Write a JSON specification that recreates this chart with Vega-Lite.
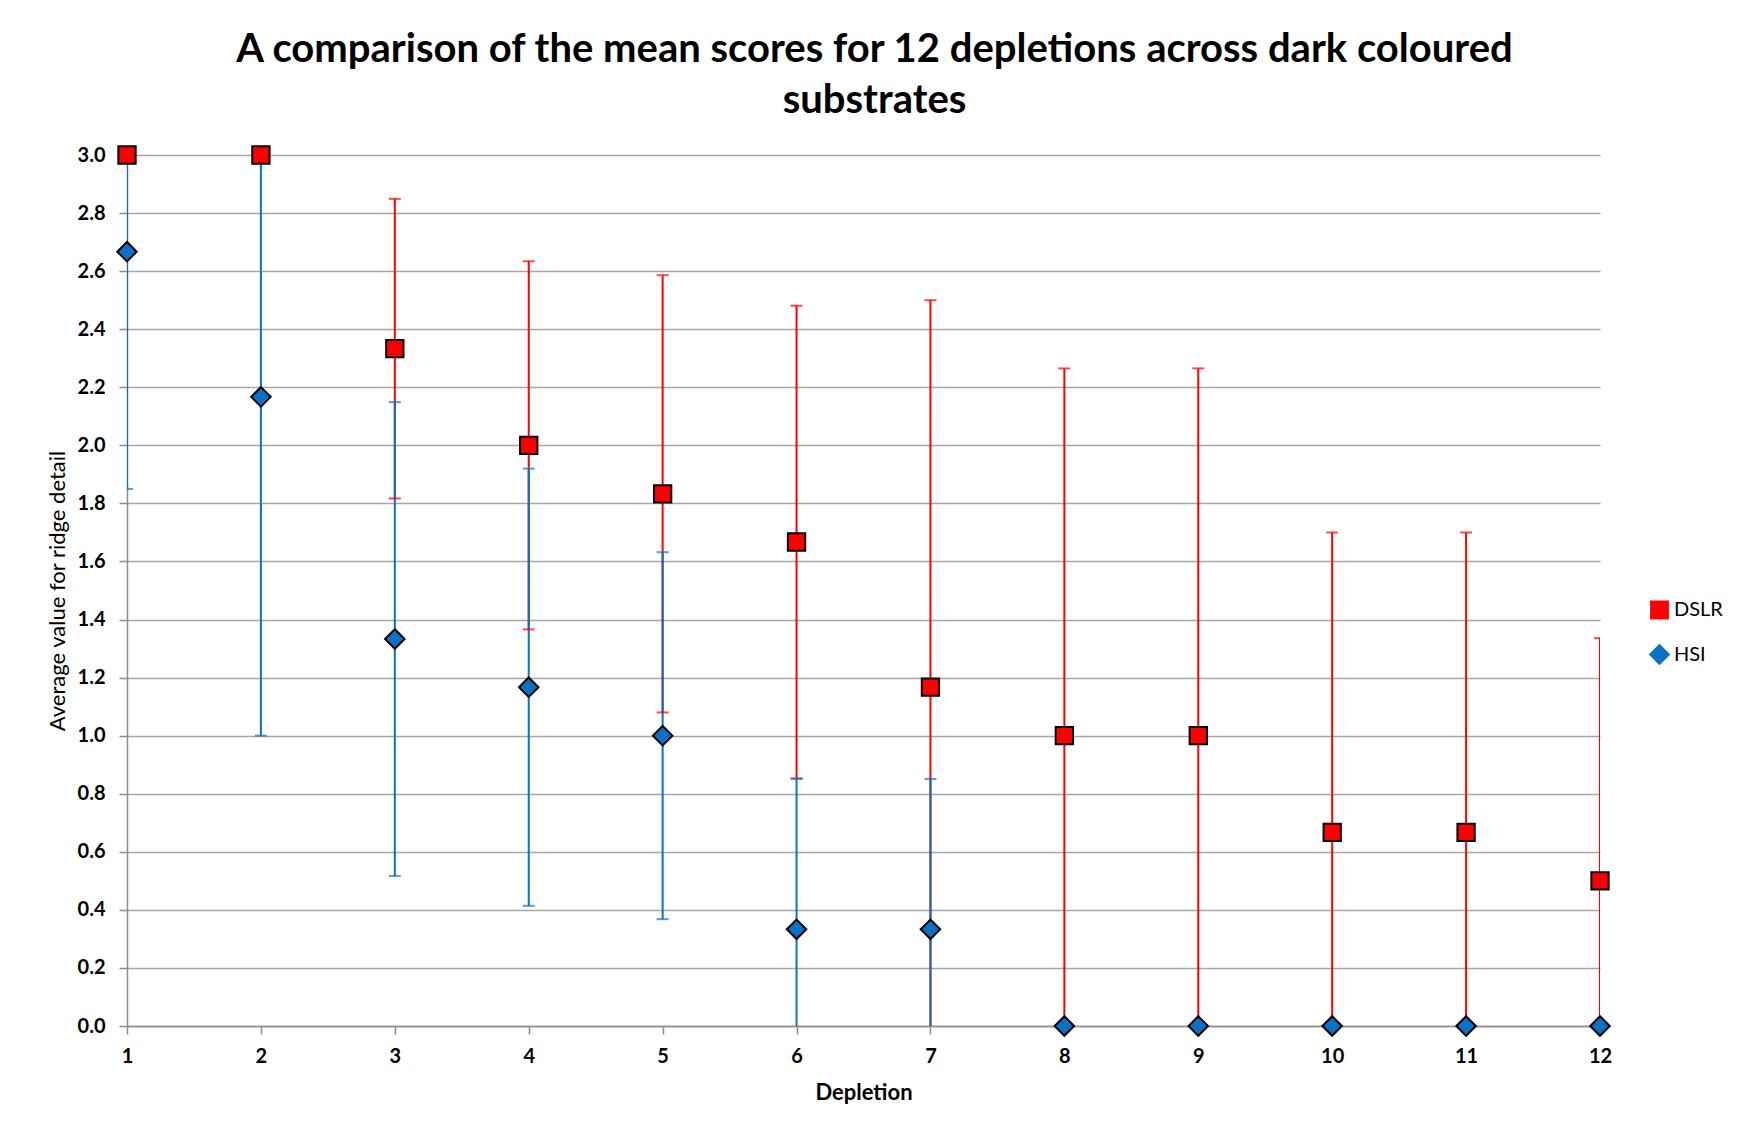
{
  "$schema": "https://vega.github.io/schema/vega-lite/v6.json",
  "width": 1473,
  "height": 871,
  "autosize": {"type": "none"},
  "padding": {"left": 127, "top": 155, "right": 137, "bottom": 103},
  "background": "white",
  "title": {
    "text": ["A comparison of the mean scores for 12 depletions across dark coloured", "substrates"],
    "font": "Lato",
    "fontSize": 40,
    "fontWeight": "bold",
    "color": "black",
    "lineHeight": 51,
    "anchor": "middle",
    "dx": 11,
    "offset": 21
  },
  "data": {
    "values": [
      {"depletion": 1, "series": "DSLR", "mean": 3.0, "lower": 3.0, "upper": 3.0},
      {"depletion": 2, "series": "DSLR", "mean": 3.0, "lower": 3.0, "upper": 3.0},
      {"depletion": 3, "series": "DSLR", "mean": 2.333, "lower": 1.817, "upper": 2.849},
      {"depletion": 4, "series": "DSLR", "mean": 2.0, "lower": 1.366, "upper": 2.634},
      {"depletion": 5, "series": "DSLR", "mean": 1.833, "lower": 1.08, "upper": 2.586},
      {"depletion": 6, "series": "DSLR", "mean": 1.667, "lower": 0.853, "upper": 2.481},
      {"depletion": 7, "series": "DSLR", "mean": 1.167, "lower": -0.167, "upper": 2.5},
      {"depletion": 8, "series": "DSLR", "mean": 1.0, "lower": -0.265, "upper": 2.265},
      {"depletion": 9, "series": "DSLR", "mean": 1.0, "lower": -0.265, "upper": 2.265},
      {"depletion": 10, "series": "DSLR", "mean": 0.667, "lower": -0.366, "upper": 1.7},
      {"depletion": 11, "series": "DSLR", "mean": 0.667, "lower": -0.366, "upper": 1.7},
      {"depletion": 12, "series": "DSLR", "mean": 0.5, "lower": -0.336, "upper": 1.336},
      {"depletion": 1, "series": "HSI", "mean": 2.667, "lower": 1.85, "upper": 3.483},
      {"depletion": 2, "series": "HSI", "mean": 2.167, "lower": 1.0, "upper": 3.333},
      {"depletion": 3, "series": "HSI", "mean": 1.333, "lower": 0.517, "upper": 2.149},
      {"depletion": 4, "series": "HSI", "mean": 1.167, "lower": 0.414, "upper": 1.92},
      {"depletion": 5, "series": "HSI", "mean": 1.0, "lower": 0.368, "upper": 1.632},
      {"depletion": 6, "series": "HSI", "mean": 0.333, "lower": -0.184, "upper": 0.851},
      {"depletion": 7, "series": "HSI", "mean": 0.333, "lower": -0.184, "upper": 0.851},
      {"depletion": 8, "series": "HSI", "mean": 0.0, "lower": 0.0, "upper": 0.0},
      {"depletion": 9, "series": "HSI", "mean": 0.0, "lower": 0.0, "upper": 0.0},
      {"depletion": 10, "series": "HSI", "mean": 0.0, "lower": 0.0, "upper": 0.0},
      {"depletion": 11, "series": "HSI", "mean": 0.0, "lower": 0.0, "upper": 0.0},
      {"depletion": 12, "series": "HSI", "mean": 0.0, "lower": 0.0, "upper": 0.0}
    ]
  },
  "config": {
    "view": {"stroke": null},
    "axis": {
      "domainColor": "#8C8C8C",
      "domainWidth": 1.5,
      "tickColor": "#8C8C8C",
      "tickWidth": 1.5,
      "tickSize": 8,
      "labelFont": "Lato",
      "labelFontSize": 20,
      "labelFontWeight": "bold",
      "labelColor": "black",
      "labelFlush": false,
      "labelOverlap": false,
      "titleFont": "Lato",
      "titleFontSize": 22,
      "titleColor": "black",
      "gridColor": "#A6A6A6",
      "gridWidth": 1.5
    },
    "legend": {
      "title": null,
      "labelFont": "Lato",
      "labelFontSize": 20,
      "labelColor": "black",
      "labelOffset": 4,
      "rowPadding": 19,
      "symbolSize": 200,
      "symbolOpacity": 1,
      "symbolStrokeColor": "black",
      "symbolStrokeWidth": 1.5,
      "padding": 0
    }
  },
  "encoding": {
    "x": {
      "field": "depletion",
      "type": "quantitative",
      "scale": {"domain": [1, 12], "nice": false, "zero": false},
      "axis": {
        "values": [1, 2, 3, 4, 5, 6, 7, 8, 9, 10, 11, 12],
        "format": "d",
        "grid": false,
        "labelPadding": 12,
        "title": "Depletion",
        "titleFontWeight": "bold",
        "titlePadding": 16
      }
    },
    "color": {
      "field": "series",
      "type": "nominal",
      "scale": {"domain": ["DSLR", "HSI"], "range": ["#FF0000", "#0A72C4"]},
      "legend": {
        "orient": "none",
        "legendX": 1522,
        "legendY": 445
      }
    }
  },
  "layer": [
    {
      "mark": {"type": "rule", "clip": true, "strokeWidth": 2},
      "encoding": {
        "y": {
          "field": "lower",
          "type": "quantitative",
          "scale": {"domain": [0, 3], "nice": false},
          "axis": {
            "values": [0, 0.2, 0.4, 0.6, 0.8, 1.0, 1.2, 1.4, 1.6, 1.8, 2.0, 2.2, 2.4, 2.6, 2.8, 3.0],
            "format": ".1f",
            "grid": true,
            "labelPadding": 14,
            "title": "Average value for ridge detail",
            "titleFontWeight": "normal",
            "titleFontSize": 22,
            "titlePadding": 8
          }
        },
        "y2": {"field": "upper"}
      }
    },
    {
      "mark": {"type": "tick", "clip": true, "orient": "horizontal", "size": 12, "thickness": 2},
      "encoding": {
        "y": {"field": "lower", "type": "quantitative"}
      }
    },
    {
      "mark": {"type": "tick", "clip": true, "orient": "horizontal", "size": 12, "thickness": 2},
      "encoding": {
        "y": {"field": "upper", "type": "quantitative"}
      }
    },
    {
      "mark": {"type": "point", "filled": true, "stroke": "black", "strokeWidth": 2, "opacity": 1},
      "encoding": {
        "y": {"field": "mean", "type": "quantitative"},
        "shape": {
          "field": "series",
          "type": "nominal",
          "scale": {"domain": ["DSLR", "HSI"], "range": ["square", "diamond"]},
          "legend": {
            "orient": "none",
            "legendX": 1522,
            "legendY": 445
          }
        },
        "size": {
          "field": "series",
          "type": "nominal",
          "scale": {"domain": ["DSLR", "HSI"], "range": [300, 380]},
          "legend": null
        }
      }
    }
  ]
}
